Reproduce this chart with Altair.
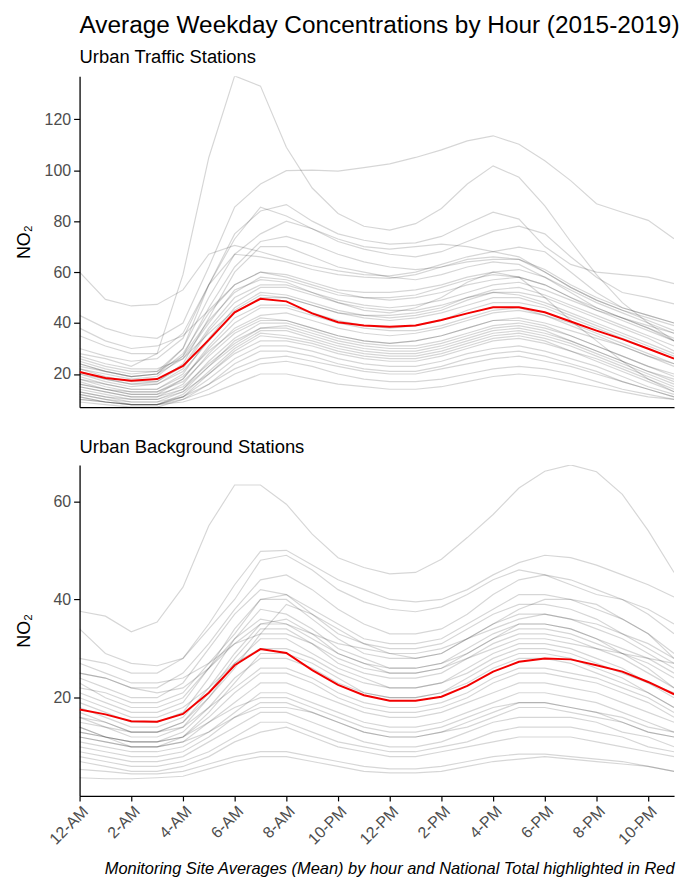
import altair as alt
import pandas as pd

HOURS = list(range(24))
TICK_HOURS = list(range(0, 24, 2))
TICK_LABELS = ["12-AM", "2-AM", "4-AM", "6-AM", "8-AM", "10-PM",
               "12-PM", "2-PM", "4-PM", "6-PM", "8-PM", "10-PM"]

MAIN_TITLE = "Average Weekday Concentrations by Hour (2015-2019)"
TRAFFIC_TITLE = "Urban Traffic Stations"
BACKGROUND_TITLE = "Urban Background Stations"
CAPTION = "Monitoring Site Averages (Mean) by hour and National Total highlighted in Red"
Y_TITLE = "NO\u2082"

# national totals (red lines)
TRAFFIC_NATIONAL = [20.8, 18.4, 17.3, 18.0, 23.2, 33.4, 44.2, 49.5, 48.5, 43.8, 40.3, 39.0,
                    38.5, 39.0, 41.2, 43.8, 46.2, 46.2, 44.2, 40.6, 37.0, 33.7, 29.9, 26.0]
BACKGROUND_NATIONAL = [17.6, 16.6, 15.2, 15.1, 16.7, 21.0, 26.6, 29.9, 29.1, 25.6, 22.6, 20.5,
                       19.4, 19.4, 20.2, 22.4, 25.3, 27.3, 28.0, 27.8, 26.6, 25.3, 23.2, 20.7]

# monitoring site averages, urban traffic
TRAFFIC_SITES = [
    [28, 26, 23, 28, 59, 105, 137, 133, 109, 93, 83, 78, 76.5, 79, 85, 94.6, 101.7, 97.2, 86, 72, 59, 48, 40, 33],
    [43, 38, 35, 34, 40, 62, 85.5, 94.6, 99.8, 100, 99.6, 101, 102.5, 105, 108, 111.5, 113.5, 110.2, 103.7, 95.9, 86.8, 83.5, 80.3, 73.1],
    [60, 49.3, 46.7, 47.3, 53, 67, 70.5, 68, 65, 62.5, 60.5, 59, 58.5, 60, 63, 66, 68, 69.8, 68, 60, 52, 46, 43, 40],
    [35, 31, 28, 28, 36, 55, 75, 84, 86.5, 80, 75, 72.5, 71, 71.5, 74, 79, 83.5, 80.8, 70, 63, 60, 59, 58, 55.5],
    [30, 27, 25, 26, 34, 55, 73, 85.5, 82, 77, 72, 69, 67, 66, 68, 72, 76, 78, 75, 66, 58, 52, 50, 47.5],
    [25, 22, 20, 21, 30, 50, 67, 75, 80, 77, 73, 70, 69, 70, 71, 70, 68, 66, 60, 54, 49, 45, 41, 37],
    [22, 20, 18, 19, 27, 46, 62, 72, 74, 71, 67, 64, 62, 61, 62, 64, 65, 65, 60, 54, 49, 45, 42, 39],
    [20, 18, 16, 17, 24, 42, 60, 70, 70, 66, 62, 60, 58, 57, 59, 62, 64, 63, 58, 52, 46, 42, 38, 34],
    [24, 21, 19, 20, 30, 55, 67, 66, 64, 61, 59, 58, 57.5, 59, 62, 65, 66, 65, 61, 55, 50, 46, 43, 40],
    [38, 33, 30, 31, 35, 45, 55, 60, 58, 55, 52, 50, 49, 50, 52, 55, 57, 58, 55, 50, 45, 42, 39, 36],
    [24, 21, 19, 20, 28, 44, 55, 60, 59, 56, 53, 52, 52, 53, 55, 58, 60, 61, 58, 53, 48, 44, 40, 36],
    [26, 23, 21, 21, 27, 41, 52, 58, 57, 54, 51, 50, 50, 51, 54, 57, 59, 58, 55, 50, 46, 42, 38, 33],
    [22, 19, 17, 17, 23, 38, 50, 55, 55, 52, 49, 47, 46, 47, 49, 52, 55, 56, 53, 49, 45, 41, 37, 33],
    [20, 17, 15, 16, 22, 37, 48, 54, 54, 51, 48, 46, 45, 45, 47, 50, 53, 54, 51, 47, 43, 39, 35, 31],
    [18, 16, 14, 14, 20, 34, 46, 52, 51, 48, 45, 43, 42, 43, 45, 49, 52, 52, 50, 46, 42, 38, 34, 29],
    [21, 18, 16, 16, 21, 33, 44, 50, 50, 47, 44, 43, 43, 44, 46, 50, 52, 51, 48, 44, 40, 36, 32, 28],
    [16, 14, 12, 12, 18, 31, 42, 47, 47, 44, 41, 39, 38, 39, 41, 45, 48, 48, 46, 42, 38, 34, 30, 26],
    [17, 14, 13, 13, 18, 30, 40, 46, 46, 43, 40, 38, 37, 37, 39, 42, 45, 46, 43, 39, 35, 31, 27, 23],
    [15, 13, 11, 11, 16, 28, 38, 43, 44, 41, 38, 36, 35, 36, 38, 41, 44, 45, 43, 40, 36, 32, 28, 24],
    [19, 16, 14, 14, 19, 29, 37, 42, 41, 38, 35, 33, 32, 33, 35, 38, 41, 42, 40, 37, 34, 31, 27, 24],
    [14, 12, 10, 10, 14, 25, 34, 40, 40, 37, 34, 32, 31, 31, 33, 36, 39, 40, 38, 35, 31, 27, 23, 19],
    [13, 11, 9, 9, 13, 23, 33, 38, 39, 36, 33, 31, 30, 30, 32, 35, 38, 39, 37, 33, 29, 25, 21, 17],
    [15, 13, 11, 11, 14, 23, 31, 37, 37, 34, 31, 29, 28, 28, 30, 33, 36, 37, 35, 32, 28, 24, 20, 16],
    [12, 10, 8, 8, 12, 21, 30, 36, 35, 33, 30, 28, 27, 27, 29, 32, 35, 36, 34, 31, 27, 23, 19, 15],
    [11, 9, 8, 8, 11, 20, 29, 35, 34, 32, 29, 27, 26, 26, 28, 31, 34, 35, 33, 29, 25, 21, 17, 13],
    [13, 11, 10, 10, 13, 20, 28, 33, 33, 31, 28, 26, 25, 25, 27, 30, 33, 34, 32, 29, 26, 22, 18, 14],
    [10, 9, 8, 8, 11, 18, 26, 31, 31, 29, 26, 24, 23, 23, 25, 28, 30, 31, 29, 26, 23, 19, 15, 12],
    [9, 8, 7, 7, 10, 16, 24, 29, 29, 27, 24, 22, 21, 21, 23, 26, 28, 29, 27, 24, 21, 17, 14, 11],
    [12, 10, 9, 9, 11, 16, 22, 26, 27, 25, 23, 21, 20, 20, 22, 24, 26, 27, 25, 23, 20, 17, 14, 11],
    [10, 9, 8, 8, 9, 12, 16, 20, 20, 18, 16, 15, 14, 14, 15, 17, 19, 20, 19, 17, 15, 13, 11, 10],
    [11, 9, 8, 8, 10, 14, 20, 24, 25, 23, 20, 18, 17, 17, 18, 20, 22, 23, 22, 20, 17, 14, 12, 10],
    [23, 21, 19, 20, 26, 40, 53, 57, 56, 52, 48, 45, 44, 46, 50, 56, 60, 58, 50, 41, 33, 25, 18, 13],
    [27, 24, 22, 22, 26, 36, 45, 51, 50, 47, 44, 42, 41, 42, 44, 47, 50, 50, 47, 43, 39, 35, 31, 27],
    [18, 15, 13, 13, 17, 27, 36, 41, 41, 38, 35, 33, 32, 33, 35, 38, 41, 41, 39, 35, 31, 27, 23, 20],
    [16, 14, 12, 12, 15, 24, 32, 38, 38, 35, 32, 30, 29, 29, 31, 34, 37, 38, 36, 33, 29, 25, 21, 18],
]

# monitoring site averages, urban background
BACKGROUND_SITES = [
    [37.6, 36.6, 33.4, 35.4, 42.5, 55, 63.3, 63.3, 59.4, 53.3, 48.5, 46.5, 45.2, 45.5, 48.2, 52.6, 57.3, 62.7, 66.1, 67.4, 66, 61.4, 54, 45.5],
    [28, 27, 25, 25, 28, 35, 43, 49.8, 50, 47, 44, 42, 40, 39.5, 40, 42, 45, 47.5, 49, 48.5, 47, 45, 43, 40.5],
    [34, 29, 27, 26.5, 28, 34, 40, 48, 49, 46, 42, 39.5, 38, 37.5, 38.5, 41, 44, 46, 45, 43, 41, 40, 38, 35],
    [25, 24, 22, 22, 25, 31, 38, 44, 45, 42, 38, 35, 33, 33, 34, 37, 41, 44, 45, 44, 42, 40, 37, 33],
    [22, 21, 19, 19, 21, 27, 33, 40, 41, 38, 35, 32, 31, 31, 32, 35, 38, 41, 41, 40, 38, 36, 33, 29],
    [16, 15, 13, 13, 15, 20, 26, 33, 39, 37, 34, 31, 29, 28, 29, 32, 35, 38, 40, 40, 39, 36, 33, 28],
    [24, 22, 20, 20, 23, 30, 37, 42, 41, 37, 33, 31, 30, 30, 31, 34, 37, 39, 39, 38, 36, 33, 30, 27],
    [21, 19, 17, 17, 19, 26, 34, 40, 40, 36, 32, 29, 28, 28, 29, 32, 35, 37, 37, 36, 34, 32, 29, 26],
    [19, 17, 15, 15, 17, 24, 32, 38, 37, 34, 30, 28, 26, 26, 27, 30, 33, 35, 35, 34, 32, 30, 28, 25],
    [23, 20, 18, 18, 20, 26, 32, 36, 35, 32, 29, 27, 26, 26, 27, 29, 32, 34, 34, 33, 31, 29, 27, 24],
    [17, 15, 13, 13, 15, 21, 28, 34, 34, 31, 27, 25, 24, 24, 25, 28, 31, 33, 33, 32, 30, 28, 25, 22],
    [15, 14, 12, 12, 14, 20, 27, 32, 32, 29, 26, 24, 22, 22, 23, 26, 29, 31, 31, 30, 28, 26, 23, 20],
    [20, 18, 16, 16, 18, 22, 27, 30, 30, 28, 25, 23, 22, 22, 23, 25, 28, 30, 30, 29, 27, 25, 23, 21],
    [14, 12, 11, 11, 13, 18, 24, 28, 28, 26, 23, 21, 20, 20, 21, 23, 26, 28, 28, 27, 25, 23, 21, 18],
    [16, 14, 13, 13, 14, 18, 22, 26, 26, 24, 21, 19, 18, 18, 19, 21, 24, 26, 26, 25, 24, 22, 20, 17],
    [13, 12, 11, 11, 12, 16, 21, 25, 25, 23, 20, 18, 17, 17, 18, 20, 23, 25, 25, 24, 23, 21, 19, 16],
    [12, 11, 10, 10, 11, 15, 19, 23, 23, 21, 19, 17, 16, 16, 17, 19, 21, 23, 23, 22, 21, 19, 17, 15],
    [11, 10, 9, 9, 10, 13, 17, 21, 21, 19, 17, 15, 14, 14, 15, 17, 19, 21, 21, 20, 19, 17, 15, 13],
    [14, 12, 11, 11, 12, 15, 18, 20, 20, 18, 16, 14, 13, 13, 14, 16, 18, 19, 19, 18, 17, 16, 14, 13],
    [10, 9, 8, 8, 9, 12, 16, 19, 19, 17, 15, 13, 12, 12, 13, 15, 17, 19, 19, 18, 17, 15, 13, 12],
    [12, 11, 10, 10, 11, 13, 16, 18, 18, 17, 15, 13, 12, 12, 13, 14, 16, 18, 18, 17, 16, 15, 13, 12],
    [9, 8, 7, 7, 8, 11, 14, 17, 17, 15, 13, 11, 10, 10, 11, 13, 15, 16, 16, 16, 15, 13, 12, 10],
    [8, 7, 6, 6, 7, 9, 12, 15, 15, 13, 11, 10, 9, 9, 10, 11, 13, 14, 14, 14, 13, 12, 10, 9],
    [7, 6, 5, 5, 6, 8, 11, 13, 14, 12, 10, 9, 8, 8, 9, 10, 11, 12, 12, 12, 11, 10, 9, 8],
    [5.4, 5, 4.5, 4.5, 5, 6.5, 8, 9, 9, 8, 7, 6, 5.5, 5.5, 6, 7, 8, 8.5, 8.5, 8, 7.5, 7, 6, 5],
    [3.7, 3.5, 3.5, 3.7, 4, 5.5, 7, 8, 8, 7, 6, 5, 4.7, 4.7, 5, 6, 7, 7.5, 8, 7.5, 7, 6.5, 6, 5],
    [27, 25, 23, 23, 24, 27, 31, 33, 33, 31, 28, 26, 25, 25, 26, 28, 30, 32, 32, 31, 30, 29, 28, 27],
    [25, 24, 22, 21, 22, 26, 31, 35, 35, 33, 31, 30, 29, 29, 30, 32, 34, 36, 37, 36, 35, 33, 31, 28],
    [18, 16, 14, 14, 16, 22, 29, 35, 36, 33, 29, 27, 25, 25, 26, 29, 32, 35, 35, 34, 32, 29, 26, 22],
    [13, 12, 10, 10, 12, 17, 23, 29, 29, 27, 24, 21, 20, 20, 21, 24, 27, 29, 29, 28, 26, 24, 21, 18],
]

FONT = "Liberation Sans"


def _long(sites):
    rows = []
    for i, vals in enumerate(sites):
        for h, v in zip(HOURS, vals):
            rows.append({"site": i, "hour": h, "value": v})
    return pd.DataFrame(rows)


def _panel(sites, national, domain, yticks, title, bottom):
    label_expr = "[" + ",".join(f"'{t}'" for t in TICK_LABELS) + "][datum.value / 2]"
    if bottom:
        x_axis = alt.Axis(values=TICK_HOURS, labelExpr=label_expr, labelAngle=-45,
                          labelAlign="right", labelBaseline="top", labelPadding=2,
                          tickSize=5, title=CAPTION, titleAnchor="end",
                          titleFontStyle="italic", titleFontWeight="normal",
                          titleFontSize=16.5, titleColor="black", titlePadding=13)
    else:
        x_axis = alt.Axis(labels=False, ticks=False, title=None)

    y_axis = alt.Axis(values=yticks, title=Y_TITLE, titleX=-46, titleFontSize=18,
                      titleFontWeight="normal", titleColor="black", tickSize=6,
                      labelPadding=3)

    x = alt.X("hour:Q", scale=alt.Scale(domain=[0, 23], nice=False, zero=False), axis=x_axis)
    y = alt.Y("value:Q", scale=alt.Scale(domain=domain, nice=False, zero=False), axis=y_axis)

    grey = (
        alt.Chart(_long(sites))
        .mark_line(color="black", opacity=0.16, strokeWidth=1.2, clip=True)
        .encode(x=x, y=y, detail="site:N")
    )
    nat = pd.DataFrame({"hour": HOURS, "value": national})
    red = (
        alt.Chart(nat)
        .mark_line(color="#f20000", strokeWidth=2, clip=True)
        .encode(x="hour:Q", y="value:Q")
    )
    return alt.layer(grey, red).properties(width=598, height=333, title=title)


top = _panel(TRAFFIC_SITES, TRAFFIC_NATIONAL, [6.95, 136.9], [20, 40, 60, 80, 100, 120],
             alt.TitleParams(MAIN_TITLE, subtitle=TRAFFIC_TITLE, anchor="start", frame="group",
                             fontSize=24.5, fontWeight="normal", color="black",
                             subtitleFontSize=18.5, subtitleColor="black", subtitleFont=FONT,
                             subtitlePadding=9, offset=9),
             bottom=False)
bottom = _panel(BACKGROUND_SITES, BACKGROUND_NATIONAL, [0, 67.4], [20, 40, 60],
                alt.TitleParams(BACKGROUND_TITLE, anchor="start", frame="group",
                                fontSize=18.5, fontWeight="normal", color="black", offset=8),
                bottom=True)

chart = (
    alt.vconcat(top, bottom, spacing=31)
    .properties(padding={"left": 8, "top": 3, "right": 2, "bottom": 2})
    .configure(font=FONT)
    .configure_view(stroke=None)
    .configure_axis(grid=False, domainColor="black", domainWidth=1.3, tickColor="black",
                    tickWidth=1.2, labelColor="#4d4d4d", labelFontSize=16, labelFont=FONT,
                    titleFont=FONT)
    .configure_title(font=FONT)
)

chart.save("out.html", embed_options={"renderer": "svg", "actions": False})
